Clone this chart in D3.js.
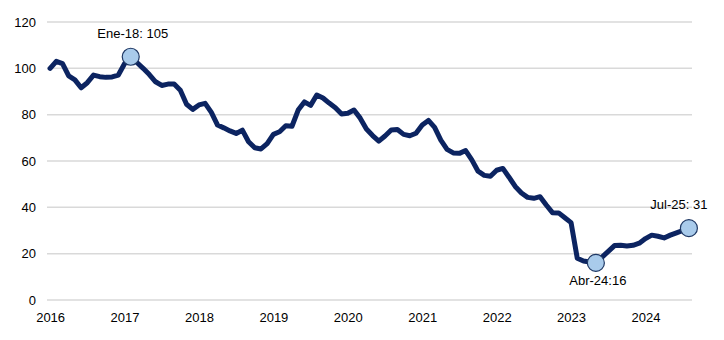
<!DOCTYPE html>
<html>
<head>
<meta charset="utf-8">
<script src="https://cdn.jsdelivr.net/npm/d3@7"></script>
<style>
  body { margin: 0; background: #fff; }
  svg text { font-family: "Liberation Sans", Arial, sans-serif; fill: #000; }
</style>
</head>
<body>
<div id="chart"></div>
<script>
// monthly index values, first point Dec-16 (index 0) to Jul-25 (index 103)
var values = [
  100, 103, 102, 96.7, 95, 91.6, 93.8, 97.1, 96.4, 96.1, 96.3, 97.1, 102, 105,
  102.5, 100, 97.3, 94.2, 92.6, 93.2, 93.2, 90.5, 84.5, 82.3, 84.2, 84.9,
  81, 75.5, 74.3, 73, 71.9, 73.3, 68.3, 65.7, 65.2, 67.5, 71.5, 72.6,
  75.2, 75, 82, 85.5, 84, 88.5, 87.2, 85, 83, 80.3, 80.6, 82,
  78.5, 73.8, 71, 68.6, 70.8, 73.4, 73.6, 71.5, 70.9, 72, 75.5, 77.5,
  74.5, 69, 65, 63.5, 63.3, 64.5, 60.5, 55.6, 53.8, 53.4, 56, 56.8,
  53, 49, 46.2, 44.3, 43.9, 44.6, 41, 37.7, 37.6, 35.5, 33.4, 18,
  16.8, 16.4, 16, 18.5, 21, 23.5, 23.6, 23.3, 23.6, 24.5, 26.5, 28,
  27.5, 26.8, 28, 29, 30, 31
];
var yearLabels = ["2016", "2017", "2018", "2019", "2020", "2021", "2022", "2023", "2024"];
var yTicks = [0, 20, 40, 60, 80, 100, 120];
var highlights = [
  { index: 13, label: "Ene-18: 105", pos: "above" },
  { index: 88, label: "Abr-24:16", pos: "below" },
  { index: 103, label: "Jul-25: 31", pos: "above" }
];

var width = 724, height = 340;
var svg = d3.select("#chart").append("svg")
    .attr("width", width)
    .attr("height", height);

var xScale = d3.scaleLinear().domain([-0.5, values.length - 0.5]).range([47, 692]);
var yScale = d3.scaleLinear().domain([0, 120]).range([300, 22]);

// gridlines
svg.append("g")
    .selectAll("line")
    .data(yTicks)
    .enter().append("line")
    .attr("x1", xScale.range()[0])
    .attr("x2", xScale.range()[1])
    .attr("y1", function(d) { return yScale(d); })
    .attr("y2", function(d) { return yScale(d); })
    .attr("stroke", "#d9d9d9")
    .attr("stroke-width", 1.5);

// y axis labels
var yAxis = d3.axisLeft(yScale).tickValues(yTicks).tickSize(0).tickPadding(0);
var gy = svg.append("g")
    .attr("transform", "translate(36,0)")
    .call(yAxis);
gy.select(".domain").remove();
gy.selectAll("text").style("font-size", "13px").attr("fill", "#000");

// x axis labels, one every 12 months
var xAxis = d3.axisBottom(xScale)
    .tickValues(yearLabels.map(function(d, i) { return i * 12; }))
    .tickFormat(function(d, i) { return yearLabels[i]; })
    .tickSize(0).tickPadding(0);
var gx = svg.append("g")
    .attr("transform", "translate(0,313)")
    .call(xAxis);
gx.select(".domain").remove();
gx.selectAll("text").style("font-size", "13px").attr("fill", "#000");

// line
var lineGen = d3.line()
    .x(function(d, i) { return xScale(i); })
    .y(function(d) { return yScale(d); });

svg.append("path")
    .attr("d", lineGen(values))
    .attr("fill", "none")
    .attr("stroke", "#0c2461")
    .attr("stroke-width", 5)
    .attr("stroke-linejoin", "round")
    .attr("stroke-linecap", "round");

// highlighted points
var hl = svg.append("g").selectAll("g")
    .data(highlights)
    .enter().append("g");

hl.append("circle")
    .attr("cx", function(d) { return xScale(d.index); })
    .attr("cy", function(d) { return yScale(values[d.index]); })
    .attr("r", 8.5)
    .attr("fill", "#a9cbeb")
    .attr("stroke", "#1f3864")
    .attr("stroke-width", 1.2);

hl.append("text")
    .attr("x", function(d) { return d.index === 103 ? xScale(d.index) - 10 : xScale(d.index) + 2; })
    .attr("y", function(d) {
        var cy = yScale(values[d.index]);
        return d.pos === "above" ? cy - 19 : cy + 22;
    })
    .attr("text-anchor", "middle")
    .style("font-size", "13px")
    .text(function(d) { return d.label; });
</script>
</body>
</html>
